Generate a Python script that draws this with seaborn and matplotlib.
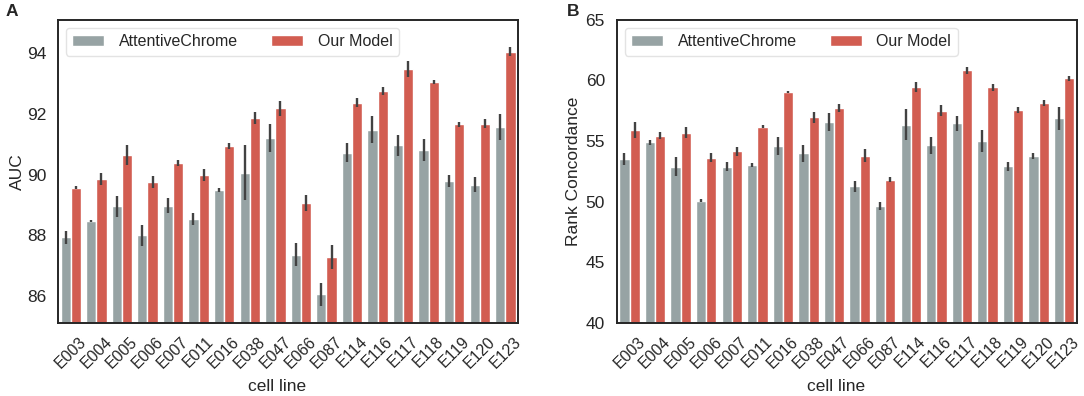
import numpy as np
import pandas as pd
import seaborn as sns
import matplotlib.pyplot as plt

cell_lines = ['E003', 'E004', 'E005', 'E006', 'E007', 'E011', 'E016', 'E038', 'E047',
              'E066', 'E087', 'E114', 'E116', 'E117', 'E118', 'E119', 'E120', 'E123']
models = ['AttentiveChrome', 'Our Model']

# AUC (panel A): mean and half-width of error bar
auc_chrome = [87.93, 88.46, 88.95, 88.0, 88.97, 88.54, 89.48, 90.06, 91.2,
              87.36, 86.05, 90.72, 91.48, 90.96, 90.8, 89.78, 89.67, 91.57]
auc_chrome_err = [0.22, 0.04, 0.35, 0.35, 0.25, 0.2, 0.07, 0.9, 0.47,
                  0.37, 0.37, 0.31, 0.45, 0.35, 0.37, 0.2, 0.25, 0.44]
auc_ours = [89.56, 89.86, 90.63, 89.75, 90.38, 89.97, 90.93, 91.85, 92.18,
            89.07, 87.29, 92.37, 92.75, 93.47, 93.06, 91.65, 91.68, 94.05]
auc_ours_err = [0.05, 0.2, 0.33, 0.2, 0.1, 0.2, 0.1, 0.2, 0.25,
                0.26, 0.39, 0.15, 0.12, 0.27, 0.07, 0.07, 0.15, 0.15]

# Rank concordance (panel B)
rc_chrome = [53.55, 54.9, 52.9, 50.08, 52.9, 53.03, 54.63, 54.02, 56.56,
             51.27, 49.67, 56.36, 54.68, 56.47, 55.04, 52.92, 53.8, 56.89]
rc_chrome_err = [0.5, 0.2, 0.8, 0.12, 0.35, 0.15, 0.75, 0.7, 0.75,
                 0.45, 0.35, 1.25, 0.7, 0.6, 0.9, 0.4, 0.25, 0.95]
rc_ours = [55.95, 55.45, 55.7, 53.65, 54.15, 56.2, 59.04, 56.97, 57.74,
           53.8, 51.82, 59.48, 57.52, 60.83, 59.45, 57.6, 58.13, 60.19]
rc_ours_err = [0.66, 0.3, 0.45, 0.35, 0.4, 0.15, 0.08, 0.45, 0.3,
               0.55, 0.2, 0.4, 0.45, 0.3, 0.3, 0.25, 0.25, 0.2]

palette = ['#95a5a6', '#e74c3c']

sns.set_style('white')
plt.rcParams['font.family'] = ['Liberation Sans', 'DejaVu Sans']
plt.rcParams['axes.edgecolor'] = '#262626'
plt.rcParams['axes.linewidth'] = 1.4

fig = plt.figure(figsize=(10.84, 3.96), dpi=100)
axA = fig.add_axes([0.0535, 0.184, 0.4245, 0.766])
axB = fig.add_axes([0.569, 0.184, 0.4245, 0.766])


def draw_panel(ax, chrome, chrome_err, ours, ours_err, ylabel, ylim, yticks, ylab_x):
    df = pd.DataFrame({
        'cell line': cell_lines * 2,
        'value': chrome + ours,
        'model': [models[0]] * len(cell_lines) + [models[1]] * len(cell_lines),
    })
    sns.barplot(data=df, x='cell line', y='value', hue='model', palette=palette,
                errorbar=None, ax=ax)
    for cont, means, errs in zip(ax.containers, [chrome, ours], [chrome_err, ours_err]):
        xs = [b.get_x() + b.get_width() / 2 for b in cont]
        ax.errorbar(xs, means, yerr=errs, fmt='none', ecolor='#424242', elinewidth=1.7)
    ax.set_xlim(-0.5, len(cell_lines) - 0.5)
    ax.set_ylim(*ylim)
    ax.set_yticks(yticks)
    ax.set_ylabel(ylabel, fontsize=12.5)
    ax.yaxis.set_label_coords(ylab_x, 0.5)
    ax.set_xlabel('cell line', fontsize=12.5)
    ax.xaxis.set_label_coords(0.476, -0.185)
    ax.tick_params(axis='both', length=0)
    ax.tick_params(axis='y', labelsize=12.5, pad=8.5)
    ax.tick_params(axis='x', labelsize=11.5, pad=8)
    plt.setp(ax.get_xticklabels(), rotation=45, ha='center')
    leg = ax.legend(loc='upper left', ncol=2, fontsize=11.5, handlelength=2.0,
                    columnspacing=2.1, handletextpad=0.9, borderaxespad=0.5,
                    frameon=True, fancybox=True)
    leg.set_title(None)
    leg.get_frame().set_edgecolor('#dddddd')


draw_panel(axA, auc_chrome, auc_chrome_err, auc_ours, auc_ours_err,
           'AUC', (85.1, 95.1), [86, 88, 90, 92, 94], -0.072)
draw_panel(axB, rc_chrome, rc_chrome_err, rc_ours, rc_ours_err,
           'Rank Concordance', (40, 65), [40, 45, 50, 55, 60, 65], -0.078)

fig.text(0.005, 0.972, 'A', fontsize=12.5, fontweight='bold', va='center')
fig.text(0.523, 0.972, 'B', fontsize=12.5, fontweight='bold', va='center')

fig.savefig('out.png', dpi=100)
